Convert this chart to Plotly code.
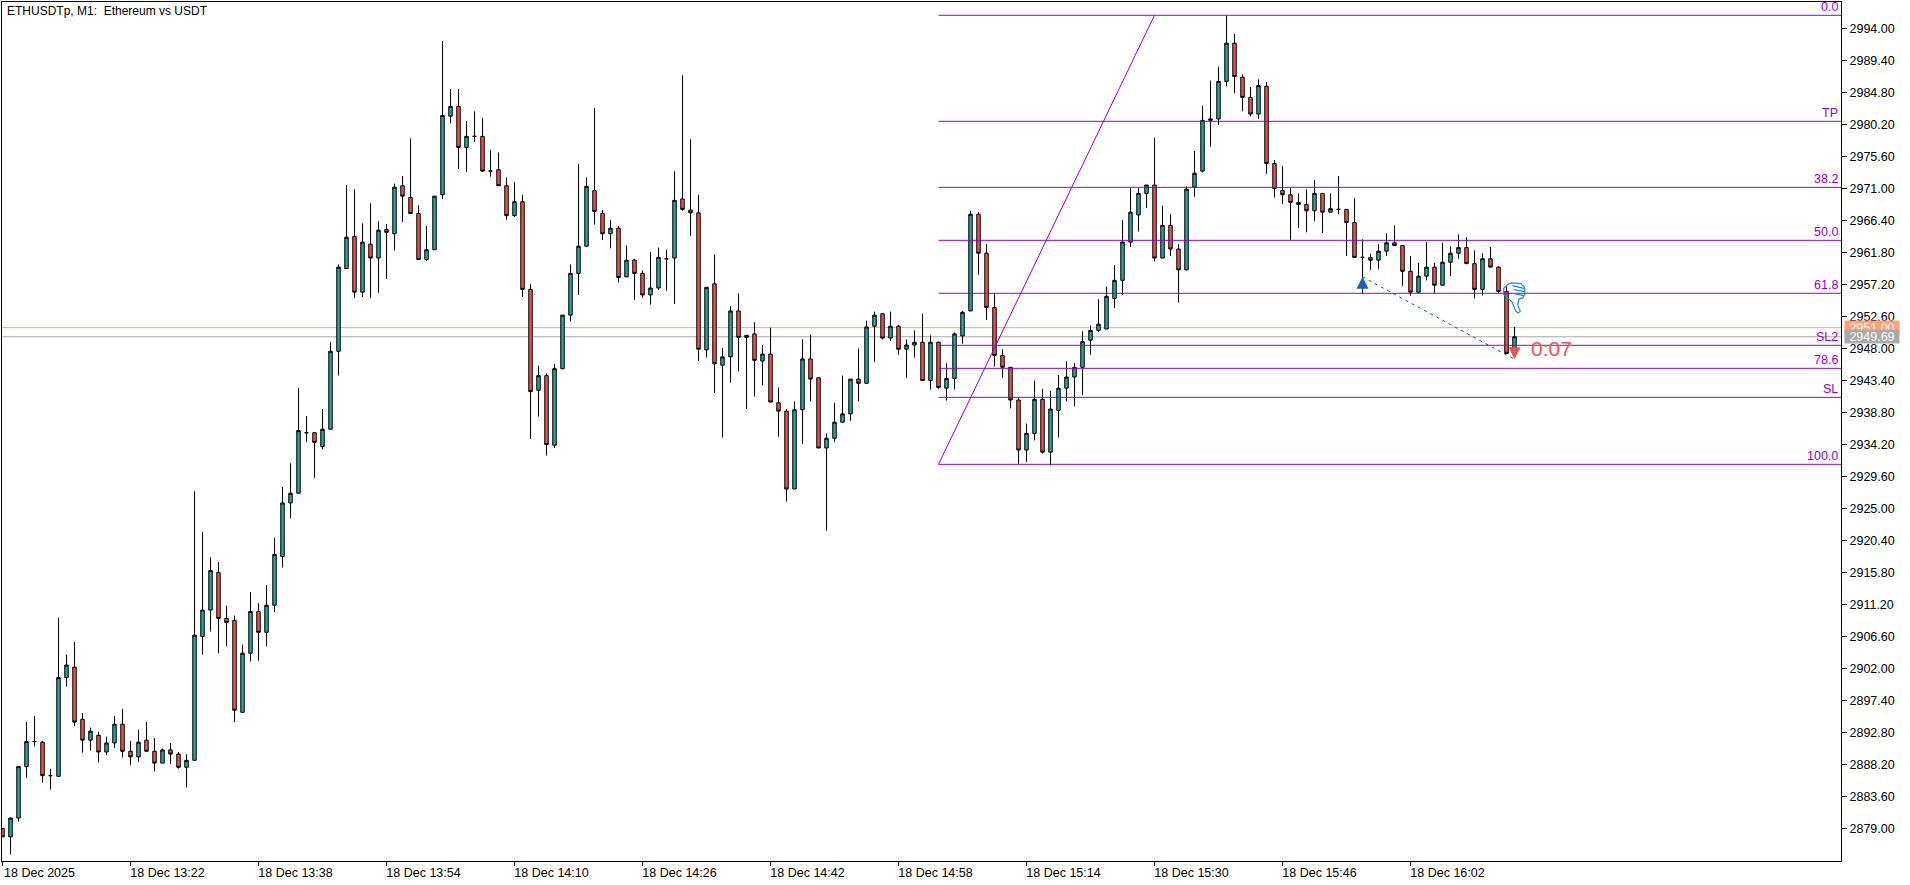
import pandas as pd
import plotly.graph_objects as go

open_ = [
 2879.0,2877.8,2880.5,2887.9,2891.5,2891.4,2886.6,2886.5,2900.7,2902.2,
 2894.7,2891.7,2892.4,2890.0,2891.3,2894.0,2890.1,2889.3,2891.7,2890.1,
 2888.4,2890.3,2889.7,2887.8,2888.8,2906.6,2910.4,2915.8,2909.2,2908.9,
 2895.7,2904.2,2910.2,2907.2,2911.1,2918.1,2925.8,2927.2,2935.9,2935.9,
 2933.9,2936.4,2947.6,2959.5,2964.1,2956.1,2963.0,2961.0,2965.1,2964.5,
 2971.4,2969.7,2967.4,2960.8,2962.2,2970.1,2981.4,2982.8,2976.9,2978.5,
 2978.5,2973.5,2973.7,2971.4,2967.1,2969.1,2956.5,2942.0,2944.1,2934.1,
 2945.1,2952.8,2958.8,2962.7,2970.7,2967.4,2964.5,2965.3,2958.3,2960.7,
 2958.8,2955.7,2956.7,2960.9,2961.0,2969.5,2967.9,2967.5,2947.8,2957.3,
 2945.6,2946.8,2953.4,2949.6,2950.1,2946.2,2947.2,2940.2,2939.0,2927.8,
 2939.2,2946.5,2943.8,2933.7,2935.1,2937.4,2938.6,2943.6,2943.0,2951.2,
 2953.0,2949.5,2951.2,2947.9,2948.5,2948.9,2943.4,2948.9,2942.3,2943.7,
 2949.8,2953.4,2967.3,2961.7,2953.9,2947.0,2945.3,2940.6,2933.4,2935.8,
 2940.7,2933.1,2939.1,2942.3,2943.9,2945.3,2949.2,2950.6,2950.8,2955.2,
 2957.8,2963.3,2967.2,2970.3,2971.5,2961.0,2965.7,2962.3,2959.3,2971.2,
 2973.5,2980.8,2981.0,2986.4,2991.9,2987.0,2984.1,2981.7,2985.7,2974.6,
 2970.7,2970.1,2969.0,2968.7,2967.8,2970.3,2967.6,2968.0,2968.0,2966.1,
 2961.1,2961.1,2960.7,2962.0,2963.2,2962.8,2959.1,2956.1,2958.4,2959.7,
 2957.1,2960.4,2961.7,2962.5,2960.2,2956.5,2960.9,2959.7,2956.2,2948.0,
]
high = [
 2879.0,2880.6,2887.9,2894.3,2895.2,2891.6,2887.6,2909.3,2904.0,2905.8,
 2895.6,2893.5,2892.9,2892.2,2895.2,2896.2,2891.6,2893.2,2894.3,2892.0,
 2890.5,2891.3,2890.0,2889.7,2927.5,2921.6,2918.0,2917.3,2911.0,2909.6,
 2905.4,2913.0,2911.4,2914.0,2920.8,2928.1,2931.5,2942.3,2938.3,2935.9,
 2939.3,2948.9,2960.1,2971.5,2970.9,2966.0,2968.9,2966.3,2965.9,2971.7,
 2972.8,2978.2,2968.6,2965.6,2969.9,2992.2,2985.3,2985.3,2980.7,2982.1,
 2981.1,2976.5,2976.2,2972.6,2971.9,2970.1,2957.3,2945.5,2944.4,2945.8,
 2952.8,2960.1,2974.5,2972.6,2982.6,2967.9,2966.5,2965.6,2962.8,2960.9,
 2959.2,2961.9,2962.5,2962.2,2973.5,2987.3,2978.1,2970.1,2956.8,2961.5,
 2948.1,2954.1,2955.9,2949.9,2951.8,2948.5,2951.0,2942.4,2939.3,2940.4,
 2949.3,2950.0,2943.8,2935.8,2940.2,2944.1,2943.6,2948.0,2952.0,2953.3,
 2953.1,2953.3,2951.4,2949.3,2950.6,2953.0,2949.9,2949.0,2945.9,2950.3,
 2953.4,2967.8,2967.6,2963.0,2955.9,2947.9,2945.3,2941.0,2937.2,2943.4,
 2942.2,2941.9,2944.2,2946.2,2945.9,2950.5,2951.3,2955.1,2956.9,2960.0,
 2966.5,2971.1,2971.1,2971.5,2978.3,2968.5,2967.3,2963.0,2971.3,2976.4,
 2982.9,2986.5,2988.5,2995.9,2993.2,2987.4,2985.6,2986.7,2986.3,2975.1,
 2974.2,2971.1,2970.3,2970.9,2972.2,2970.3,2970.3,2972.8,2968.0,2969.6,
 2963.7,2961.6,2963.0,2964.6,2965.7,2962.8,2961.3,2960.3,2963.3,2960.3,
 2963.2,2962.7,2964.4,2964.0,2962.1,2961.7,2962.6,2959.8,2956.9,2951.1,
]
low = [
 2877.8,2875.3,2880.0,2886.3,2890.8,2885.6,2884.6,2886.5,2899.4,2893.7,
 2889.9,2890.2,2888.5,2889.6,2890.6,2889.2,2888.1,2888.6,2890.1,2887.2,
 2888.4,2888.3,2887.6,2884.9,2888.8,2904.0,2907.3,2904.2,2905.2,2894.3,
 2895.7,2903.0,2903.1,2905.2,2910.1,2916.5,2923.6,2927.2,2934.6,2929.4,
 2933.5,2936.4,2944.1,2959.5,2955.3,2955.4,2955.3,2956.0,2958.0,2962.1,
 2966.2,2967.4,2960.8,2960.6,2962.2,2969.5,2980.4,2973.8,2973.4,2977.7,
 2973.4,2972.7,2971.4,2966.5,2966.9,2955.4,2935.0,2938.2,2932.6,2933.7,
 2945.0,2951.9,2955.7,2962.7,2965.8,2963.6,2962.4,2957.5,2958.3,2955.0,
 2955.3,2954.3,2956.4,2956.3,2954.4,2967.8,2964.2,2946.2,2946.7,2941.6,
 2935.2,2943.1,2944.7,2939.3,2941.1,2942.7,2940.3,2935.3,2926.0,2927.8,
 2934.3,2940.4,2933.7,2921.8,2934.6,2937.4,2937.6,2940.4,2943.0,2946.1,
 2949.3,2949.1,2947.1,2943.8,2946.7,2943.3,2942.1,2942.2,2940.5,2942.1,
 2948.7,2953.4,2958.6,2952.1,2945.4,2943.8,2939.4,2931.4,2931.7,2934.8,
 2932.9,2931.2,2935.2,2940.4,2939.7,2941.3,2947.1,2950.4,2950.8,2953.8,
 2955.7,2962.6,2964.8,2968.2,2960.5,2961.0,2961.3,2954.6,2959.3,2969.8,
 2973.3,2977.0,2980.1,2985.7,2984.7,2982.1,2981.4,2981.0,2973.1,2969.7,
 2968.8,2963.6,2965.3,2964.7,2966.3,2964.6,2967.6,2967.3,2961.3,2961.1,
 2955.9,2959.3,2959.4,2961.3,2962.7,2957.0,2955.6,2955.9,2957.8,2955.9,
 2957.1,2958.4,2960.9,2960.2,2955.2,2955.6,2959.7,2956.0,2947.3,2947.6,
]
close = [
 2877.8,2880.5,2887.9,2891.5,2891.5,2886.6,2886.6,2900.7,2902.5,2894.3,
 2891.7,2893.0,2890.0,2891.3,2894.0,2890.1,2889.3,2891.4,2890.1,2888.4,
 2890.3,2889.7,2887.8,2888.8,2906.8,2910.4,2916.1,2909.2,2908.6,2896.0,
 2904.2,2910.2,2907.2,2911.1,2918.4,2925.8,2927.2,2936.2,2935.9,2934.5,
 2936.4,2947.6,2959.7,2964.0,2956.1,2963.3,2961.0,2965.0,2964.7,2971.2,
 2969.9,2967.4,2960.8,2962.2,2969.9,2981.5,2982.8,2976.9,2978.5,2978.5,
 2973.5,2973.5,2971.4,2967.1,2969.1,2956.5,2941.8,2944.1,2934.2,2945.1,
 2952.8,2958.8,2962.7,2971.3,2967.7,2964.5,2965.3,2958.2,2960.7,2958.8,
 2955.7,2956.7,2961.1,2960.9,2969.3,2968.0,2967.5,2947.9,2956.8,2945.8,
 2946.8,2953.4,2949.6,2949.9,2946.3,2947.2,2940.3,2939.0,2927.8,2939.2,
 2946.5,2943.6,2933.7,2935.1,2937.4,2938.6,2943.6,2943.0,2951.1,2952.8,
 2949.5,2951.2,2947.9,2948.5,2948.9,2943.4,2948.9,2942.4,2943.7,2950.1,
 2953.2,2967.3,2961.7,2953.9,2947.0,2945.3,2940.6,2933.4,2935.8,2940.7,
 2933.1,2939.3,2942.3,2943.9,2945.3,2949.0,2950.6,2951.5,2955.5,2957.8,
 2963.3,2967.6,2970.3,2971.5,2961.0,2965.7,2962.3,2959.3,2970.9,2973.2,
 2980.8,2981.0,2986.4,2991.9,2987.1,2984.1,2981.7,2985.8,2974.6,2971.0,
 2970.1,2969.0,2968.7,2967.8,2970.3,2967.6,2968.1,2968.0,2966.1,2961.1,
 2961.1,2960.7,2962.0,2963.2,2962.8,2959.1,2956.1,2958.4,2959.7,2957.1,
 2960.4,2961.7,2962.5,2960.2,2956.5,2960.9,2959.7,2956.2,2947.3,2949.69,
]
times = pd.date_range("2025-12-18 13:06", periods=len(close), freq="min")

y_ticks = [2994.0,2989.4,2984.8,2980.2,2975.6,2971.0,2966.4,2961.8,2957.2,2952.6,2948.0,2943.4,2938.8,
           2934.2,2929.6,2925.0,2920.4,2915.8,2911.2,2906.6,2902.0,2897.4,2892.8,2888.2,2883.6,2879.0]
x_tick_minutes = [0,16,32,48,64,80,96,112,128,144,160,176]
x_tick_labels = ["18 Dec 2025","18 Dec 13:22","18 Dec 13:38","18 Dec 13:54","18 Dec 14:10","18 Dec 14:26",
                 "18 Dec 14:42","18 Dec 14:58","18 Dec 15:14","18 Dec 15:30","18 Dec 15:46","18 Dec 16:02"]

fib_labels = ["0.0","TP","38.2","50.0","61.8","SL2","78.6","SL","100.0"]
fib_prices = [2995.9,2980.66,2971.17,2963.55,2955.94,2948.46,2945.15,2940.98,2931.35]
fib_start_bar = 117
fib_peak_bar = 144
bid_price = 2949.69
ask_price = 2951.00
trade_bars = [170,189]
trade_prices = [2958.3,2946.45]
stem_prices = [2957.1,2947.7]
countdown = "0:07"
title = "ETHUSDTp, M1:  Ethereum vs USDT"

PURPLE = "#9400D3"
TEAL = "#26A69A"
RED = "#EF5350"
BLUE = "#1565C0"
SALMON = "#FFA07A"
GREY = "#A9A9A9"
FONT = "Liberation Sans"

x_left = times[0] - pd.Timedelta(seconds=3.75)
x_right = x_left + pd.Timedelta(minutes=229.875)

fig = go.Figure()
fig.add_trace(go.Candlestick(
    x=times, open=open_, high=high, low=low, close=close,
    increasing=dict(line=dict(color="black", width=1), fillcolor=TEAL),
    decreasing=dict(line=dict(color="black", width=1), fillcolor=RED),
    whiskerwidth=0, showlegend=False, hoverinfo="skip",
))
fig.add_trace(go.Scatter(
    x=[times[i] for i in trade_bars], y=trade_prices, mode="lines",
    line=dict(color="#0D47A1", width=1, dash="3px,4px"), showlegend=False, hoverinfo="skip",
))
for bar, tip, stem, symbol, color in [
    (trade_bars[0], trade_prices[0], stem_prices[0], "arrow-up", BLUE),
    (trade_bars[1], trade_prices[1], stem_prices[1], "arrow-down", RED),
]:
    fig.add_trace(go.Scatter(
        x=[times[bar]], y=[stem], mode="markers",
        marker=dict(symbol="square", size=4, color=color, line=dict(width=0)),
        showlegend=False, hoverinfo="skip",
    ))
    fig.add_trace(go.Scatter(
        x=[times[bar]], y=[tip], mode="markers",
        marker=dict(symbol=symbol, size=12, color=color, line=dict(width=0)),
        showlegend=False, hoverinfo="skip",
    ))

shapes = []
for price, color in [(ask_price, SALMON), (bid_price, GREY)]:
    shapes.append(dict(type="line", xref="paper", yref="y", x0=0, x1=1, y0=price, y1=price,
                       line=dict(color=color, width=1), layer="below"))
for price in fib_prices:
    shapes.append(dict(type="line", xref="x", yref="y", x0=times[fib_start_bar], x1=x_right,
                       y0=price, y1=price, line=dict(color=PURPLE, width=1)))
shapes.append(dict(type="line", xref="x", yref="y", x0=times[fib_start_bar], x1=times[fib_peak_bar],
                   y0=fib_prices[-1], y1=fib_prices[0], line=dict(color=PURPLE, width=1)))
thumb = ("M1.2,8.5 L5.2,9.9 L14.5,9.2 L17.8,5.9 L18.5,-0.5 L16.5,-4.8 L12.5,-6.2 L11.2,-12.2 "
         "L13.8,-18.2 L11.8,-20.2 L9.2,-18.2 L5.8,-9.5 L1.8,-5.5 L-2.8,-1.5 L-2.8,4.5 Z "
         "M5.8,7.2 L17.2,4.5 M7.2,3.2 L18.5,1.2 M7.8,-0.8 L17.2,-2.8")
shapes.append(dict(type="path", xref="x", yref="y", xsizemode="pixel", ysizemode="pixel",
                   xanchor=times[188], yanchor=2956.0, path=thumb,
                   line=dict(color="#1E88E5", width=1.2)))

annotations = []
for label, price in zip(fib_labels, fib_prices):
    annotations.append(dict(text=label, xref="paper", yref="y", x=1, y=price, xshift=-2, yshift=0,
                            xanchor="right", yanchor="bottom", showarrow=False, borderpad=0,
                            font=dict(family=FONT, size=12.5, color=PURPLE)))
for price, color in [(ask_price, SALMON), (bid_price, GREY)]:
    annotations.append(dict(text=f"{price:.2f}", xref="paper", yref="y", x=1, y=price, xshift=2.5,
                            xanchor="left", yanchor="middle", showarrow=False, borderpad=0,
                            width=54, height=13, align="center", bgcolor=color,
                            font=dict(family=FONT, size=12.5, color="white")))
annotations.append(dict(text=countdown, xref="x", yref="y", x=times[189], y=2948.0, xshift=14,
                        xanchor="left", yanchor="middle", showarrow=False,
                        font=dict(family=FONT, size=21, color=RED)))

fig.update_layout(
    width=1910, height=885,
    margin=dict(l=2, r=69, t=2, b=24, pad=0),
    paper_bgcolor="white", plot_bgcolor="white",
    boxgap=0.38, showlegend=False,
    font=dict(family=FONT, size=12.5, color="black"),
    title=dict(text=title, x=7/1910, y=1-11/885, xanchor="left", yanchor="middle",
               font=dict(family=FONT, size=12, color="black")),
    xaxis=dict(type="date", range=[x_left, x_right], rangeslider=dict(visible=False), automargin=False,
               tickmode="array", tickvals=[times[m] for m in x_tick_minutes], ticktext=x_tick_labels,
               ticks="outside", ticklen=4, tickcolor="black", tickwidth=1, ticklabelshift=37, ticklabelstandoff=-4,
               showgrid=False, zeroline=False, showline=True, linecolor="black", linewidth=1, mirror=True,
               tickfont=dict(family=FONT, size=12.5, color="black")),
    yaxis=dict(side="right", range=[2874.33, 2997.81], automargin=False, tickmode="array", tickvals=y_ticks,
               ticktext=[f"{t:.2f}" for t in y_ticks], ticks="outside", ticklen=5, tickcolor="black", tickwidth=1,
               showgrid=False, zeroline=False, showline=True, linecolor="black", linewidth=1, mirror=True,
               tickfont=dict(family=FONT, size=12.5, color="black")),
    shapes=shapes, annotations=annotations,
)

fig.write_html("out.html", config=dict(displayModeBar=False),
               post_script="document.body.style.margin='0';document.documentElement.style.overflow='hidden';")
